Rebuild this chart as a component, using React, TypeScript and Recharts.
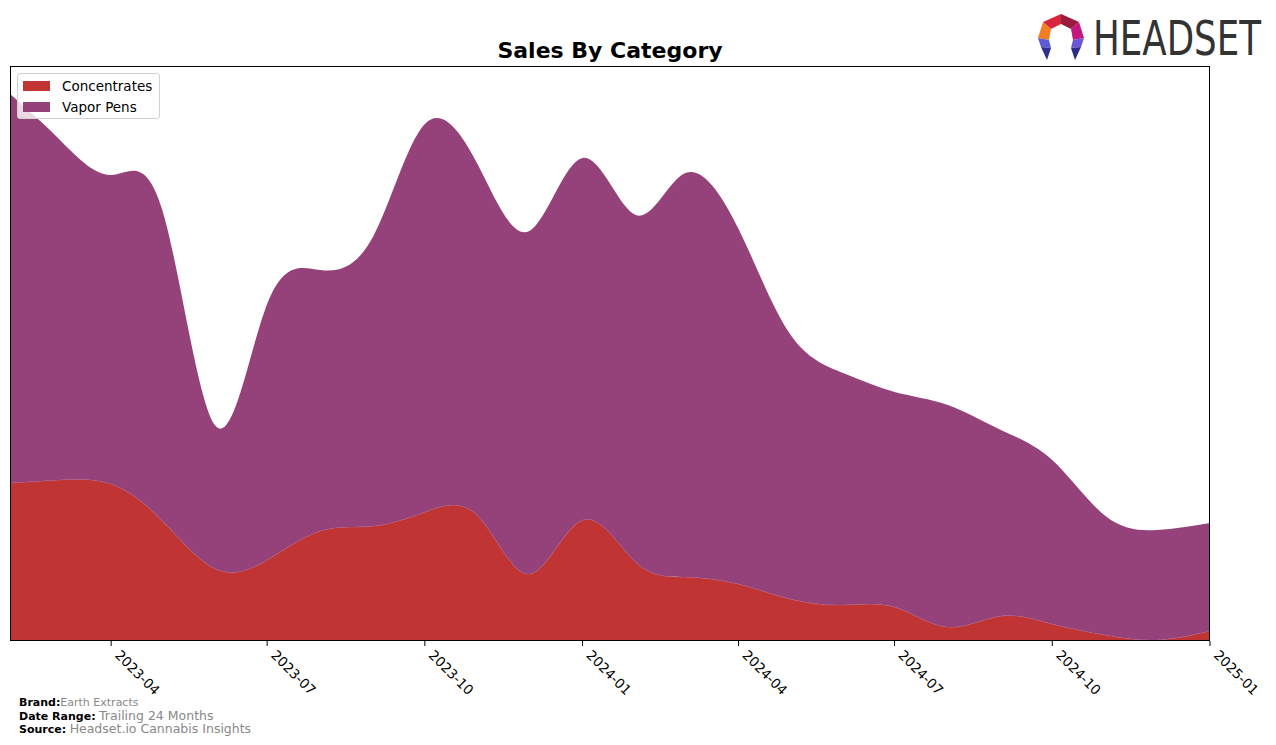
import { Area, AreaChart, XAxis, YAxis } from "recharts";

const months = [
  "2023-02", "2023-03", "2023-04", "2023-05", "2023-06", "2023-07",
  "2023-08", "2023-09", "2023-10", "2023-11", "2023-12", "2024-01",
  "2024-02", "2024-03", "2024-04", "2024-05", "2024-06", "2024-07",
  "2024-08", "2024-09", "2024-10", "2024-11", "2024-12", "2025-01",
];

const concentrates = [
  15800, 16100, 15700, 12000, 7200, 8100, 11000, 11500, 12900, 12500, 6700, 12100,
  7900, 6400, 5700, 4200, 3600, 3400, 1400, 2500, 1700, 600, 100, 1000,
];

const vaporPens = [
  38900, 34200, 30900, 31000, 14300, 25600, 26100, 29000, 38800, 35100, 34300, 36200,
  34700, 40400, 35500, 26500, 23200, 21500, 22200, 18600, 16400, 11900, 11000, 10800,
];

const tickMonths = ["2023-04", "2023-07", "2023-10", "2024-01", "2024-04", "2024-07", "2024-10", "2025-01"];

const series = [
  { key: "concentrates", name: "Concentrates", color: "#c03533" },
  { key: "vaporPens", name: "Vapor Pens", color: "#96427a" },
];

const toTime = (m: string) => Date.UTC(Number(m.slice(0, 4)), Number(m.slice(5, 7)) - 1, 1);
const fmtMonth = (t: number) => {
  const d = new Date(t);
  return `${d.getUTCFullYear()}-${String(d.getUTCMonth() + 1).padStart(2, "0")}`;
};

const data = months.map((m, i) => ({
  t: toTime(m),
  concentrates: concentrates[i],
  vaporPens: vaporPens[i],
}));

const FONT = "'DejaVu Sans', sans-serif";

function RotatedTick(props: any) {
  const { x, y, payload } = props;
  return (
    <g transform={`translate(${x + 3},${y + 8})`}>
      <text x={0} y={0} transform="rotate(45)" textAnchor="start" fontSize={13.5} fill="#000" fontFamily={FONT}>
        {fmtMonth(payload.value)}
      </text>
    </g>
  );
}

// headset mark, drawn roughly from the reference
function Logo() {
  return (
    <>
      <svg width={60} height={62} style={{ position: "absolute", left: 1030, top: 8 }}>
        <g transform="translate(4,2)">
          <polygon points="9,12 27,4 27,14 17,19" fill="#d7263d" />
          <polygon points="27,4 45,12 37,19 27,14" fill="#9b1b3c" />
          <polygon points="45,12 50,28 39,30 37,19" fill="#c2177f" />
          <polygon points="9,12 17,19 15,30 4,28" fill="#f37d22" />
          <polygon points="4,28 15,30 17,38 7,37" fill="#5b5bd6" />
          <polygon points="7,37 17,38 13,50" fill="#2f2f8f" />
          <polygon points="50,28 39,30 37,38 47,37" fill="#6b57d6" />
          <polygon points="47,37 37,38 41,50" fill="#2b2b8a" />
        </g>
      </svg>
      <div style={{
        position: "absolute", left: 1093, top: 10, fontSize: 48, lineHeight: "56px", color: "#333",
        fontFamily: "'DejaVu Sans Condensed', 'DejaVu Sans', sans-serif", whiteSpace: "nowrap",
        transform: "scaleX(0.825)", transformOrigin: "left top",
      }}>
        HEADSET
      </div>
    </>
  );
}

export default function App() {
  return (
    <div style={{ position: "absolute", left: 0, top: 0, width: 1276, height: 745, background: "#fff", fontFamily: FONT }}>
      <div style={{ position: "absolute", left: 10, width: 1200, top: 38, textAlign: "center", fontSize: 22, fontWeight: "bold" }}>
        Sales By Category
      </div>
      <Logo />
      <AreaChart width={1276} height={745} data={data} margin={{ top: 66, right: 66, left: 10, bottom: 74 }}>
        <XAxis
          dataKey="t"
          type="number"
          scale="time"
          domain={[toTime(months[0]), toTime(months[months.length - 1])]}
          ticks={tickMonths.map(toTime)}
          tick={<RotatedTick />}
          tickSize={5}
          tickLine={{ stroke: "#000" }}
          axisLine={false}
          height={30}
          allowDataOverflow
        />
        <YAxis hide domain={[0, 57500]} allowDataOverflow />
        {series.map((s) => (
          <Area
            key={s.key}
            type="natural"
            dataKey={s.key}
            name={s.name}
            stackId="1"
            stroke={s.key === "concentrates" ? "#b86a8c" : "none"}
            strokeWidth={0.6}
            fill={s.color}
            fillOpacity={1}
            isAnimationActive={false}
          />
        ))}
      </AreaChart>
      <div style={{ position: "absolute", left: 10, top: 66, width: 1198, height: 573, border: "1px solid #000", pointerEvents: "none" }} />
      <div style={{
        position: "absolute", left: 17, top: 73, width: 141, height: 44, border: "1px solid #d0d0d0",
        borderRadius: 3, background: "rgba(255,255,255,0.8)",
      }}>
        {series.map((s, i) => (
          <div key={s.key} style={{ position: "absolute", left: 5, top: 6 + i * 21, display: "flex", alignItems: "center" }}>
            <div style={{ width: 27, height: 10, background: s.color }} />
            <span style={{ marginLeft: 12, fontSize: 13.5, lineHeight: "12px" }}>{s.name}</span>
          </div>
        ))}
      </div>
      <div style={{ position: "absolute", left: 19, top: 697, fontSize: 11, lineHeight: "12.5px" }}>
        <div><b>Brand:</b><span style={{ color: "#888" }}>Earth Extracts</span></div>
        <div><b>Date Range:</b> <span style={{ color: "#888", fontSize: 12.5 }}>Trailing 24 Months</span></div>
        <div><b>Source:</b> <span style={{ color: "#888", fontSize: 12.5 }}>Headset.io Cannabis Insights</span></div>
      </div>
    </div>
  );
}
